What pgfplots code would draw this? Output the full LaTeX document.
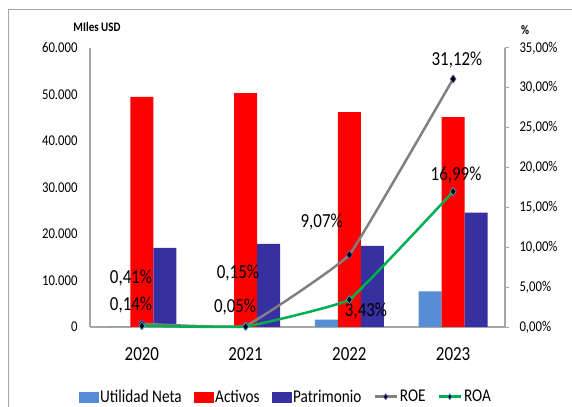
\documentclass[border=0pt]{standalone}
\usepackage{fontspec}
\setmainfont{Carlito}[FakeStretch=0.85]
\usepackage{pgfplots}
\pgfplotsset{compat=1.18}
\definecolor{cUtil}{RGB}{85,142,213}
\definecolor{cAct}{RGB}{255,0,0}
\definecolor{cPat}{RGB}{55,48,160}
\definecolor{cROE}{RGB}{128,128,128}
\definecolor{cROA}{RGB}{0,176,80}
\definecolor{axgray}{RGB}{166,166,166}
\pgfplotsset{
  barleg/.style={legend image code/.code={\fill[#1] (0bp,-5bp) rectangle (19bp,5bp);}},
  lineleg/.style={legend image code/.code={\draw[##1, mark repeat=2, mark phase=2, mark size=3bp] plot coordinates {(0bp,0bp) (11bp,0bp) (22bp,0bp)};}},
}
\begin{document}
\begin{tikzpicture}
\path[use as bounding box] (0,0) rectangle (572bp,407bp);
\draw[axgray, line width=1bp] (8bp,0) -- (8bp,397bp) -- (572bp,397bp);
\begin{axis}[
  at={(90bp,80bp)}, anchor=south west, scale only axis,
  width=415bp, height=279bp,
  xmin=-0.5, xmax=3.5, ymin=0, ymax=60000,
  axis x line*=bottom, axis y line*=left,
  axis line style={axgray, line width=1.2bp, -},
  x axis line style={line width=1.8bp},
  xtick={0,1,2,3}, xticklabels={2020,2021,2022,2023},
  ytick={0,10000,20000,30000,40000,50000,60000},
  yticklabels={0,10.000,20.000,30.000,40.000,50.000,60.000},
  scaled y ticks=false,
  major tick length=0pt,
  xticklabel style={font=\fontsize{20}{22}\selectfont, yshift=-17bp},
  yticklabel style={font=\fontsize{15}{17}\selectfont, xshift=-9bp},
  ybar=0pt, bar width=23bp,
]
\addplot[fill=cUtil, draw=none] coordinates {(0,70) (1,27) (2,1585) (3,7670)};
\addplot[fill=cAct, draw=none] coordinates {(0,49500) (1,50300) (2,46200) (3,45150)};
\addplot[fill=cPat, draw=none] coordinates {(0,17000) (1,17850) (2,17450) (3,24620)};
\end{axis}
\begin{axis}[
  at={(90bp,80bp)}, anchor=south west, scale only axis,
  width=415bp, height=279bp,
  xmin=-0.5, xmax=3.5, ymin=0, ymax=35,
  axis x line=none, axis y line*=right,
  axis line style={axgray, line width=1.2bp, -},
  ytick={0,5,10,15,20,25,30,35},
  yticklabels={{0,00\%},{5,00\%},{10,00\%},{15,00\%},{20,00\%},{25,00\%},{30,00\%},{35,00\%}},
  tick align=outside, major tick length=4bp,
  tick style={axgray, line width=1bp},
  yticklabel style={font=\fontsize{15}{17}\selectfont, xshift=7bp},
  legend columns=5,
  legend style={at={(0.472,-0.25)}, anchor=center, draw=none, fill=none,
    font=\fontsize{18}{20}\selectfont,
    /tikz/every even column/.append style={column sep=10bp}},
  clip=false,
]
\addlegendimage{barleg=cUtil}
\addlegendimage{barleg=cAct}
\addlegendimage{barleg=cPat}
\addplot[cROE, line width=2.5bp, smooth, tension=0.15, mark=diamond*, mark size=4bp,
  mark options={fill=black, draw={rgb,255:red,120;green,90;blue,200}, line width=0.6bp},
  lineleg]
  coordinates {(0,0.41) (1,0.15) (2,9.07) (3,31.12)};
\addplot[cROA, line width=2.5bp, smooth, tension=0.15, mark=diamond*, mark size=4bp,
  mark options={fill=black, draw={rgb,255:red,60;green,180;blue,220}, line width=0.6bp},
  lineleg]
  coordinates {(0,0.14) (1,0.05) (2,3.43) (3,16.99)};
\legend{Utilidad Neta, Activos, Patrimonio, ROE, ROA}
\begin{scope}[every node/.style={font=\fontsize{20}{22}\selectfont, text=black, inner sep=0pt}]
\node at (axis cs:-0.105,6.15) {0,41\%};
\node at (axis cs:-0.105,2.76) {0,14\%};
\node at (axis cs:0.926,6.77) {0,15\%};
\node at (axis cs:0.898,2.51) {0,05\%};
\node at (axis cs:1.733,13.2) {9,07\%};
\node at (axis cs:2.16,2.0) {3,43\%};
\node at (axis cs:3.037,33.5) {31,12\%};
\node at (axis cs:3.028,19.07) {16,99\%};
\end{scope}
\end{axis}
\node[font=\bfseries\fontsize{13}{15}\selectfont, inner sep=0pt] at (97bp,380bp) {MIles USD};
\node[font=\bfseries\fontsize{13}{15}\selectfont, inner sep=0pt, anchor=west] at (521bp,377bp) {\%};
\end{tikzpicture}
\end{document}
